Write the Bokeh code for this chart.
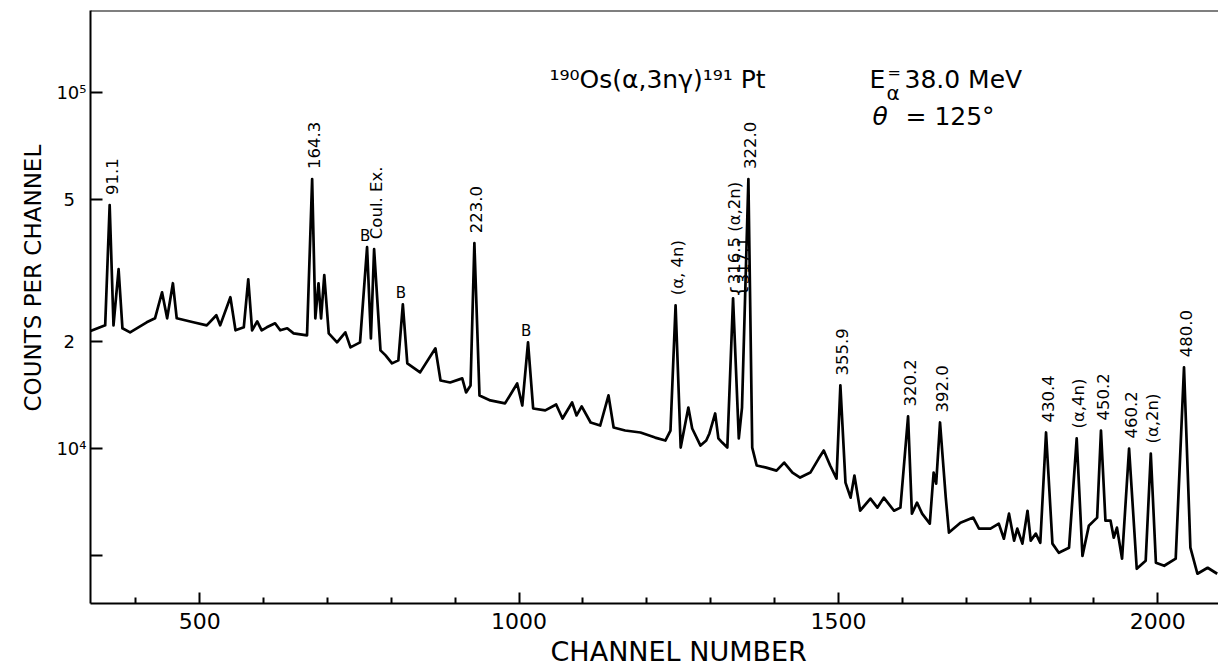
import math
import numpy as np
from bokeh.plotting import figure
from bokeh.models import FixedTicker, Span, Label, ColumnDataSource, Title
from bokeh.core.properties import value
from bokeh.embed import file_html
from bokeh.resources import INLINE

# ---------------- data ----------------
channel = [328, 352, 359, 365, 373, 379, 391, 417, 430, 441,
           449, 458, 464, 490, 511, 526, 532, 548, 556, 569,
           576, 582, 590, 597, 605, 618, 626, 637, 647, 668,
           676, 681, 686, 690, 695, 702, 715, 728, 736, 751,
           762, 768, 773, 783, 791, 801, 811, 818, 825, 845,
           869, 877, 892, 911, 917, 924, 930, 938, 955, 978,
           997, 1005, 1014, 1022, 1041, 1058, 1068, 1083, 1090, 1098,
           1112, 1127, 1140, 1148, 1166, 1190, 1213, 1229, 1237, 1245,
           1253, 1265, 1271, 1284, 1293, 1298, 1307, 1312, 1318, 1326,
           1335, 1344, 1349, 1359, 1365, 1372, 1387, 1403, 1415, 1428,
           1440, 1456, 1469, 1477, 1487, 1497, 1503, 1511, 1519, 1525,
           1534, 1550, 1561, 1571, 1587, 1597, 1609, 1615, 1623, 1631,
           1643, 1649, 1653, 1659, 1668, 1673, 1691, 1711, 1720, 1738,
           1751, 1759, 1767, 1775, 1780, 1788, 1796, 1801, 1809, 1816,
           1825, 1835, 1845, 1861, 1873, 1882, 1892, 1905, 1911, 1918,
           1926, 1931, 1936, 1944, 1955, 1967, 1981, 1989, 1997, 2010,
           2028, 2041, 2051, 2062, 2078, 2093]

counts = [21310, 22150, 48190, 22150, 31840, 21730, 21170, 22590, 23180, 27430,
          23180, 29080, 23180, 22590, 22150, 23640, 22150, 26560, 21450, 21870,
          29840, 21450, 22730, 21450, 21870, 22440, 21450, 21730, 21030, 20760,
          57030, 23180, 29080, 23180, 30630, 21030, 19840, 21170, 19210, 19840,
          36710, 20360, 36240, 18840, 18240, 17320, 17660, 25380, 17320, 16340,
          19090, 15510, 15310, 15720, 14350, 15020, 37680, 14080, 13630, 13370,
          15210, 13190, 19840, 12940, 12780, 13280, 12130, 13450, 12370, 13110,
          11820, 11590, 14080, 11440, 11220, 11080, 10720, 10518, 11220, 25220,
          10050, 13020, 11370, 10180, 10518, 11010, 12530, 10660, 10380, 10050,
          26390, 10660, 13020, 57030, 10050, 8950, 8830, 8660, 9120, 8550,
          8280, 8550, 9360, 9860, 8950, 8220, 15020, 8010, 7270, 8385,
          6680, 7225, 6815, 7270, 6680, 6815, 12290, 6555, 7040, 6555,
          6145, 8550, 7960, 11820, 7270, 5800, 6185, 6390, 5950, 5950,
          6145, 5575, 6555, 5505, 5950, 5400, 6680, 5505, 5760, 5430,
          11080, 5400, 5090, 5260, 10660, 4990, 6065, 6390, 11220, 6265,
          6265, 5610, 5990, 4900, 9990, 4590, 4835, 9670, 4775, 4680,
          4900, 16880, 5260, 4445, 4620, 4445]

peak_labels = ["91.1", "164.3", "Coul. Ex.", "223.0", "(α, 4n)", "322.0", "355.9",
               "320.2", "392.0", "430.4", "(α,4n)", "450.2", "460.2", "(α,2n)", "480.0"]
peak_label_channels = [359, 676, 773, 930, 1245, 1359, 1503,
                       1609, 1659, 1825, 1873, 1911, 1955, 1989, 2041]

doublet_labels = ["316.5 (α,2n)", "317.1"]
doublet_channel = 1335

b_labels = ["B", "B", "B"]
b_channels = [762, 818, 1014]

x_major_ticks = [500, 1000, 1500, 2000]
x_minor_ticks = [400, 600, 700, 800, 900, 1100, 1200, 1300, 1400,
                 1600, 1700, 1800, 1900]
y_ticks = [5000, 10000, 20000, 50000, 100000]
y_tick_labels = ["", "10⁴", "2\u2007", "5\u2007", "10⁵"]

title_reaction = "¹⁹⁰Os(α,3nγ)¹⁹¹ Pt"
x_title = "CHANNEL NUMBER"
y_title = "COUNTS PER CHANNEL"

# ---------------- layout ----------------
FONT = "DejaVu Sans"
W, H = 1218, 671
FL, FR, FT, FB = 90, 1218, 10, 603
X0, X1 = 329, 2095
Y0, Y1 = 3667, 169600


def sx2x(px):
    return X0 + (px - FL) * (X1 - X0) / (FR - FL)


def sy2y(py):
    l0, l1 = math.log10(Y0), math.log10(Y1)
    return 10 ** (l0 + (FB - py) * (l1 - l0) / (FB - FT))


p = figure(width=W, height=H, x_range=(X0, X1), y_range=(Y0, Y1),
           y_axis_type="log", output_backend="svg", toolbar_location=None,
           min_border_left=FL, min_border_right=W - FR,
           min_border_top=FT, min_border_bottom=H - FB)
p.outline_line_color = None
p.grid.visible = False
p.background_fill_color = "white"
p.border_fill_color = "white"

xa = p.xaxis[0]
xa.ticker = FixedTicker(ticks=x_major_ticks, minor_ticks=x_minor_ticks)
xa.major_tick_in = 11
xa.major_tick_out = 0
xa.minor_tick_in = 6
xa.minor_tick_out = 0
xa.axis_line_width = 2
xa.major_tick_line_width = 2
xa.minor_tick_line_width = 2
xa.major_label_text_font = FONT
xa.major_label_text_font_size = "22px"
xa.major_label_text_color = "black"
xa.major_label_standoff = 9
xa.axis_line_color = "black"

ya = p.yaxis[0]
ya.ticker = FixedTicker(ticks=y_ticks, minor_ticks=[])
ya.major_label_overrides = {t: s for t, s in zip(y_ticks, y_tick_labels)}
ya.major_tick_in = 12
ya.major_tick_out = 0
ya.minor_tick_in = 0
ya.minor_tick_out = 0
ya.axis_line_width = 2
ya.major_tick_line_width = 2
ya.major_label_text_font = FONT
ya.major_label_text_font_size = "18px"
ya.major_label_text_color = "black"
ya.major_label_standoff = 4

p.add_layout(Span(location=Y1, dimension="width", line_color="black", line_width=2))

# axis titles as side titles (so they can be shifted along the axis)
p.add_layout(Title(text=y_title, align="left", offset=192, text_font=FONT,
                   text_font_size="23px", text_font_style="normal",
                   text_color="black", standoff=16), "left")
p.add_layout(Title(text=x_title, align="left", offset=460, text_font=FONT,
                   text_font_size="27px", text_font_style="normal",
                   text_color="black", standoff=5), "below")

# spectrum
p.line(channel, counts, line_color="black", line_width=2.7, line_join="round")

# peak labels (rotated, reading upward)
ch_arr = np.array(channel, dtype=float)
ct_arr = np.array(counts, dtype=float)
lab_src = ColumnDataSource(dict(
    x=peak_label_channels,
    y=list(np.interp(peak_label_channels, ch_arr, ct_arr)),
    t=peak_labels))
p.text(x="x", y="y", text="t", source=lab_src, angle=math.pi / 2,
       text_align="left", text_baseline="middle", y_offset=-10, x_offset=2,
       text_font=value(FONT), text_font_size="16.5px", text_color="black")

dy = float(np.interp(doublet_channel, ch_arr, ct_arr))
for i, t in enumerate(doublet_labels):
    p.text(x=[doublet_channel], y=[dy], text=[t], angle=math.pi / 2,
           text_align="left", text_baseline="middle", y_offset=-14, x_offset=1 + 9 * i,
           text_font=value(FONT), text_font_size="16.5px", text_color="black")
p.text(x=[doublet_channel], y=[dy], text=["{"], angle=math.pi / 2,
       text_align="center", text_baseline="middle", y_offset=-7, x_offset=5,
       text_font=value(FONT), text_font_size="20px", text_color="black")

b_src = ColumnDataSource(dict(
    x=b_channels, y=list(np.interp(b_channels, ch_arr, ct_arr)), t=b_labels))
p.text(x="x", y="y", text="t", source=b_src, text_align="center",
       text_baseline="bottom", y_offset=-2, x_offset=-2,
       text_font=value(FONT), text_font_size="15px", text_color="black")

# header texts


def add_label(text, px, py, size, align="left", angle=0.0, style="normal"):
    p.add_layout(Label(x=sx2x(px), y=sy2y(py), text=text, x_units="data", y_units="data",
                       text_align=align, text_baseline="middle", angle=angle,
                       text_font=FONT, text_font_size=size, text_color="black",
                       text_font_style=style))


add_label(title_reaction, 657, 79, "25px", align="center")
add_label("E", 869, 79, "25px")
add_label("=", 887, 72, "16px")
add_label("α", 886, 92, "20px")
add_label("38.0 MeV", 904, 79, "25px")
add_label("θ", 872, 116, "25px", style="italic")
add_label("= 125°", 905, 116, "25px")

open("out.html", "w").write(file_html(p, INLINE))
